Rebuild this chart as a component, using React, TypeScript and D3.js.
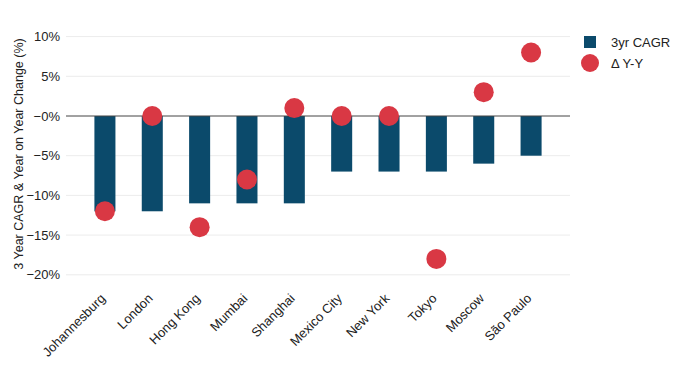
import React from "react";
import * as d3 from "d3";

const categories = ["Johannesburg", "London", "Hong Kong", "Mumbai", "Shanghai", "Mexico City", "New York", "Tokyo", "Moscow", "São Paulo"];
const cagr = [-12, -12, -11, -11, -11, -7, -7, -7, -6, -5];
const yoy = [-12, 0, -14, -8, 1, 0, 0, -18, 3, 8];
const yTicks = [10, 5, 0, -5, -10, -15, -20];
const seriesNames = ["3yr CAGR", "Δ Y-Y"];

const W = 689, H = 383;
const BAR = "#0b4a6b";
const DOT = "#d93844";
const FONT = "'Liberation Sans', Arial, Helvetica, sans-serif";

export default function App() {
  const x = d3.scaleBand<string>().domain(categories).range([66, 570]).paddingInner(0.556).paddingOuter(0.6);
  const y = d3.scaleLinear().domain([-20, 10]).range([274.8, 36.6]);
  const fmt = (v: number) => (v > 0 ? `${v}%` : `\u2212${Math.abs(v)}%`);
  return (
    <svg width={W} height={H} style={{ position: "absolute", left: 0, top: 0, background: "#fff" }} fontFamily={FONT}>
      {yTicks.map((t) => (
        <g key={t}>
          {t !== 0 && <line x1={66} x2={570} y1={y(t)} y2={y(t)} stroke="#ececec" strokeWidth={1} />}
          <text x={60} y={y(t)} dy="0.35em" textAnchor="end" fontSize={13} fill="#222">{fmt(t)}</text>
        </g>
      ))}
      {categories.map((c, i) => (
        <rect key={c} x={x(c)} width={x.bandwidth()} y={y(Math.max(0, cagr[i]))} height={Math.abs(y(cagr[i]) - y(0))} fill={BAR} />
      ))}
      <line x1={66} x2={570} y1={y(0)} y2={y(0)} stroke="#444" strokeWidth={1} />
      {categories.map((c, i) => (
        <circle key={c} cx={(x(c) as number) + x.bandwidth() / 2} cy={y(yoy[i])} r={10} fill={DOT} />
      ))}
      {categories.map((c) => (
        <text key={c} transform={`translate(${(x(c) as number) + x.bandwidth() / 2 - 2},${296}) rotate(-45)`} textAnchor="end" dy="0.35em" fontSize={13} fill="#222">{c}</text>
      ))}
      <text transform={`translate(23,${154}) rotate(-90)`} textAnchor="middle" fontSize={12.5} fill="#222">3 Year CAGR &amp; Year on Year Change (%)</text>
      <rect x={584} y={36} width={12} height={12} fill={BAR} />
      <text x={611} y={42} dy="0.35em" fontSize={13} fill="#222">{seriesNames[0]}</text>
      <circle cx={590} cy={63} r={9} fill={DOT} />
      <text x={611} y={63} dy="0.35em" fontSize={13} fill="#222">{seriesNames[1]}</text>
    </svg>
  );
}
